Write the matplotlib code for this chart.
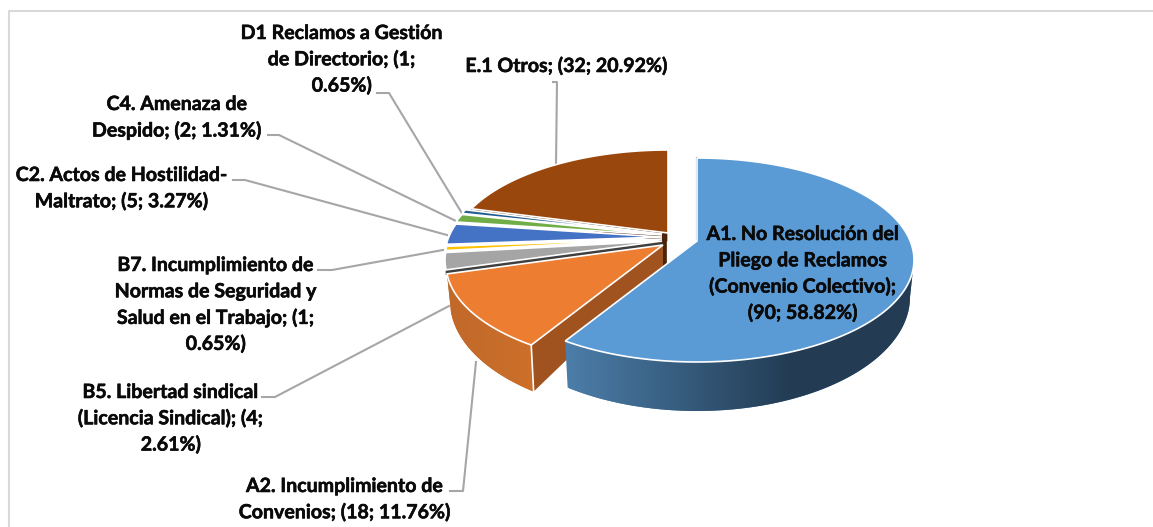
import matplotlib
matplotlib.use("Agg")
import matplotlib.pyplot as plt
import matplotlib.patheffects as pe
import numpy as np
from matplotlib.patches import Polygon

plt.rcParams['font.family'] = ['Lato', 'DejaVu Sans']

# data
names = ["A1", "A2", "B5", "B7", "C2", "C4", "D1", "E1"]
counts = [90, 18, 4, 1, 5, 2, 1, 32]
percents = ["58.82%", "11.76%", "2.61%", "0.65%", "3.27%", "1.31%", "0.65%", "20.92%"]
label_lines = [
    ["A1. No Resolución del", "Pliego de Reclamos", "(Convenio Colectivo);", "({}; {})"],
    ["A2. Incumplimiento de", "Convenios; ({}; {})"],
    ["B5. Libertad sindical", "(Licencia Sindical); ({};", "{})"],
    ["B7. Incumplimiento de", "Normas de Seguridad y", "Salud en el Trabajo; ({};", "{})"],
    ["C2. Actos de Hostilidad-", "Maltrato; ({}; {})"],
    ["C4. Amenaza de", "Despido; ({}; {})"],
    ["D1 Reclamos a Gestión", "de Directorio; ({};", "{})"],
    ["E.1 Otros; ({}; {})"],
]

# styles and layout, in pixels of the 1153x527 picture
colors = ["#5b9bd5", "#ed7d31", "#a5a5a5", "#ffc000", "#4472c4", "#70ad47", "#255e91", "#9a470d"]
centers = [(697, 260), (663, 264), (662, 260), (662, 258), (662, 256), (662, 254), (662, 253), (668, 252)]
apex_up = 19
rx, ry = 217, 102
rx_low, ry_low, low_dy = 213, 114, 37
label_x = [803, 345, 171, 216, 122, 177, 342, 567]
label_y = [234, 486, 392, 265, 175, 104, 33, 66]
line_step = 26.3
leaders = [
    None,
    [(450, 491), (463, 491), (476, 362)],
    [(262, 397), (275, 397), (449, 306)],
    [(318, 270), (332, 270), (443, 250)],
    [(233, 180), (245, 180), (447, 235)],
    [(268, 135), (279, 135), (458, 222)],
    [(377, 93), (389, 93), (463, 215)],
    [(553, 82), (557, 82), (556, 165)],
]


def ray_t(phi, cx, cy, ax, ay):
    # where the ray from the apex meets the rim, as parameter on the ellipse
    d = np.array([np.sin(phi) * rx, -np.cos(phi) * ry])
    ox, oy = (ax - cx) / rx, (ay - cy) / ry
    dx, dy = d[0] / rx, d[1] / ry
    a = dx * dx + dy * dy
    b = 2 * (ox * dx + oy * dy)
    c = ox * ox + oy * oy - 1
    s = (-b + np.sqrt(b * b - 4 * a * c)) / (2 * a)
    return np.arctan2(ox + s * dx, -(oy + s * dy))


def rim(t, cx, cy):
    return cx + rx * np.sin(t), cy - ry * np.cos(t)


def rim_low(t, cx, cy):
    return cx + rx_low * np.sin(t), cy + low_dy - ry_low * np.cos(t)


fig = plt.figure(figsize=(11.53, 5.27), dpi=100)
ax = fig.add_axes([0, 0, 1, 1])
ax.axis("off")

# chart frame, its right and bottom sides are cut off in the picture
ax.plot([8.5, 8.5, 1153], [527, 10.5, 10.5], color="#d9d9d9", lw=1.5)

edges = np.cumsum([0] + counts) / sum(counts) * 2 * np.pi
slices = []
for i in range(len(counts)):
    cx, cy = centers[i]
    ax_, ay_ = cx, cy - apex_up
    t0 = ray_t(edges[i], cx, cy, ax_, ay_)
    t1 = ray_t(edges[i + 1], cx, cy, ax_, ay_)
    if t0 < -0.01:
        t0 += 2 * np.pi
    if t1 <= t0:
        t1 += 2 * np.pi
    slices.append((cx, cy, ax_, ay_, t0, t1))


def top_face(i, z):
    cx, cy, ax_, ay_, t0, t1 = slices[i]
    ts = np.linspace(t0, t1, 120)
    xs, ys = rim(ts, cx, cy)
    ax.fill(np.r_[ax_, xs], np.r_[ay_, ys], facecolor=colors[i], edgecolor="white", lw=1.2,
            joinstyle="miter", zorder=z)


def outer_wall(i, t_a, t_b, col_left, col_right, x_left, x_right, z):
    # gradient runs along x like the shaded side of the pie
    cx, cy = slices[i][:2]
    ts = np.linspace(t_a, t_b, 160)
    xa, ya = rim(ts, cx, cy)
    xb, yb = rim_low(ts[::-1], cx, cy)
    xs = np.r_[xa, xb]
    ys = np.r_[ya, yb]
    poly = Polygon(np.c_[xs, ys], closed=True, facecolor=col_left, edgecolor="none", zorder=z)
    ax.add_patch(poly)
    c0 = np.array(matplotlib.colors.to_rgb(col_left))
    c1 = np.array(matplotlib.colors.to_rgb(col_right))
    f = np.linspace(0, 1, 256)[None, :, None]
    im = ax.imshow(c0 + (c1 - c0) * f, extent=(x_left, x_right, ys.max() + 2, ys.min() - 2),
                   aspect="auto", zorder=z)
    im.set_clip_path(poly)
    if xs.max() > x_right:
        im2 = ax.imshow(c1[None, None, :], extent=(x_right, xs.max() + 2, ys.max() + 2, ys.min() - 2),
                        aspect="auto", zorder=z)
        im2.set_clip_path(poly)


# back slices first
cx, cy, ax_, ay_, t0, t1 = slices[7]
x0, y0 = rim(t0, cx, cy)
ax.fill([x0, ax_ - 1, ax_ - 1, x0], [y0, ay_, ay_ + 8, y0 + 5], color="#4a2408", lw=0.5, zorder=2)
ax.fill([ax_ - 8, ax_ - 2, ax_ - 2, ax_ - 8], [ay_, ay_, ay_ + 34, ay_ + 34], color="#4a2408", lw=0.5, zorder=2)
for i in [7, 6, 5, 4, 3]:
    top_face(i, 3)

cx, cy, ax_, ay_, t0, t1 = slices[2]
x0, y0 = rim(t0, cx, cy)
ax.fill([x0, ax_, ax_, x0], [y0, ay_, ay_ + 4, y0 + 5], color="#3f3f3f", lw=0.5, zorder=3)
top_face(2, 3)

# A2 walls
cx, cy, ax_, ay_, t0, t1 = slices[1]
x0, y0 = rim(t0, cx, cy)
x1, y1 = rim_low(t0, cx, cy)
ax.fill([ax_, x0, x1, ax_], [ay_, y0, y1, ay_ + 22], facecolor="#a0531f", edgecolor="none", zorder=4)
outer_wall(1, t0, t1, "#c1692b", "#cb6f2a", 446, 527, 4)
ax.plot([x0, x1], [y0, y1], color="white", lw=1.2, zorder=5)
top_face(1, 5)

# A1 walls
cx, cy, ax_, ay_, t0, t1 = slices[0]
x0, y0 = rim(0.0, cx, cy)
ax.plot([x0, ax_], [y0, ay_], color="#43658a", lw=1.5, zorder=5)
outer_wall(0, np.pi / 2, t1, "#4b7da8", "#233c54", 569, 790, 6)
top_face(0, 7)

ax.set_xlim(0, 1153)
ax.set_ylim(527, 0)

# leader lines
for pts in leaders:
    if pts is not None:
        xs, ys = zip(*pts)
        ax.plot(xs, ys, color="#a6a6a6", lw=1.5, zorder=2)

# data labels
for i, lines in enumerate(label_lines):
    for j, line in enumerate(lines):
        txt = line
        if "{}" in line:
            if line.count("{}") == 2:
                txt = line.format(counts[i], percents[i])
            elif line == "{})":
                txt = line.format(percents[i])
            else:
                txt = line.format(counts[i])
        t = ax.text(label_x[i], label_y[i] + j * line_step, txt, ha="center", va="center",
                    fontsize=14.1, fontweight="bold", color="#0a0a0a", zorder=10)
        t.set_path_effects([pe.withStroke(linewidth=0.4, foreground="#0a0a0a")])

fig.savefig("out.png", dpi=100)
